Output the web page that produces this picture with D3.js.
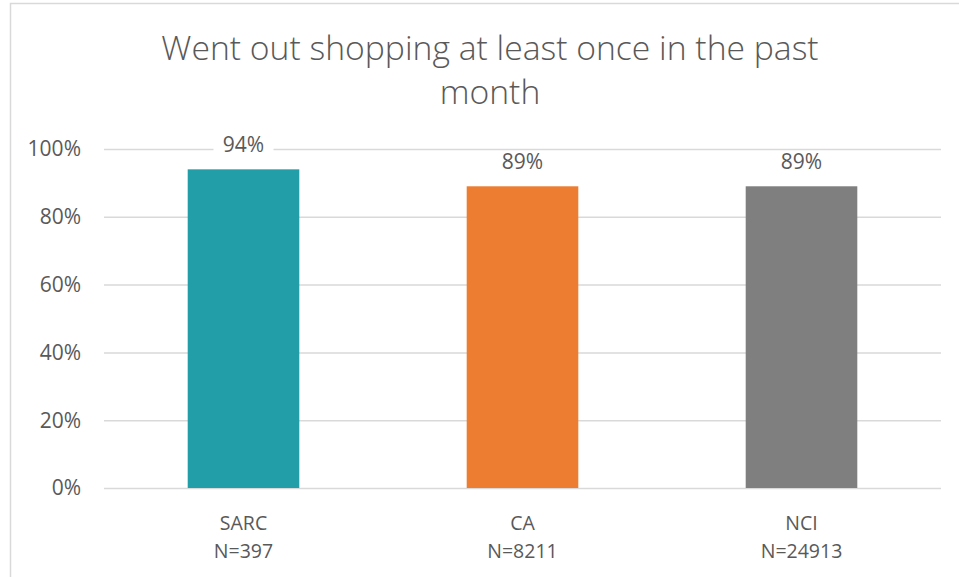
<html>
<head>
<style>
body { margin: 0; padding: 0; background: #fff; }
svg { display: block; }
text { font-family: "Open Sans", sans-serif; fill: #595959; }
.grid line { stroke: #d9d9d9; stroke-width: 1.5; }
.grid path { display: none; }
</style>
<script src="https://cdnjs.cloudflare.com/ajax/libs/d3/7.8.5/d3.min.js"></script>
</head>
<body>
<svg id="chart" width="959" height="577"></svg>
<script>
var width = 959, height = 577

var categories = ['SARC', 'CA', 'NCI']
var sampleSizes = ['N=397', 'N=8211', 'N=24913']
var values = [0.94, 0.89, 0.89]
var colors = ['#219EA8', '#ED7D31', '#7F7F7F']
var yTicks = [0, 0.2, 0.4, 0.6, 0.8, 1.0]
var titleLines = ['Went out shopping at least once in the past', 'month']

var margin = {left: 104, right: 18, top: 149, bottom: 89}
var labelSize = '21px'

var svg = d3.select('#chart')

// chart frame
svg.append('rect')
	.attr('x', 10.5).attr('y', 3.5)
	.attr('width', 960).attr('height', 600)
	.attr('fill', 'none')
	.attr('stroke', '#d9d9d9')
	.attr('stroke-width', 1.5)

var x = d3.scaleBand()
	.domain(categories)
	.range([margin.left, width - margin.right])
	.paddingInner(0.6)
	.paddingOuter(0.3)

var y = d3.scaleLinear()
	.domain([0, 1])
	.range([height - margin.bottom, margin.top])

// gridlines
svg.append('g')
	.attr('class', 'grid')
	.attr('transform', 'translate(' + margin.left + ',0)')
	.call(d3.axisLeft(y).tickValues(yTicks)
		.tickSize(-(width - margin.right - margin.left))
		.tickFormat(''))

// y labels
svg.append('g')
	.selectAll('text')
	.data(yTicks)
	.join('text')
	.attr('x', 81)
	.attr('y', function(d) { return y(d) })
	.attr('dy', '0.35em')
	.attr('text-anchor', 'end')
	.style('font-size', labelSize)
	.text(d3.format('.0%'))

// bars
svg.append('g')
	.selectAll('rect')
	.data(values)
	.join('rect')
	.attr('x', function(d, i) { return x(categories[i]) })
	.attr('width', x.bandwidth())
	.attr('y', function(d) { return y(d) })
	.attr('height', function(d) { return y(0) - y(d) })
	.attr('fill', function(d, i) { return colors[i] })

// value labels with white backing over gridline
var lbl = svg.append('g')
	.selectAll('g')
	.data(values)
	.join('g')
	.attr('transform', function(d, i) {
		return 'translate(' + (x(categories[i]) + x.bandwidth() / 2) + ',' + (y(d) - 17) + ')'
	})
lbl.append('rect')
	.attr('x', -30).attr('y', -18)
	.attr('width', 60).attr('height', 24)
	.attr('fill', '#fff')
lbl.append('text')
	.attr('text-anchor', 'middle')
	.style('font-size', labelSize)
	.text(d3.format('.0%'))

// category labels
var cat = svg.append('g')
	.selectAll('text')
	.data(categories)
	.join('text')
	.attr('text-anchor', 'middle')
	.attr('x', function(d) { return x(d) + x.bandwidth() / 2 })
	.attr('y', 530)
	.style('font-size', '19.5px')
cat.append('tspan').text(function(d) { return d })
cat.append('tspan')
	.attr('x', function(d) { return x(d) + x.bandwidth() / 2 })
	.attr('dy', 28)
	.text(function(d, i) { return sampleSizes[i] })

// title
svg.append('text')
	.attr('text-anchor', 'middle')
	.style('font-size', '33.7px')
	.style('font-weight', 300)
	.selectAll('tspan')
	.data(titleLines)
	.join('tspan')
	.attr('x', 490)
	.attr('y', function(d, i) { return 60 + i * 44 })
	.text(function(d) { return d })
</script>
</body>
</html>
